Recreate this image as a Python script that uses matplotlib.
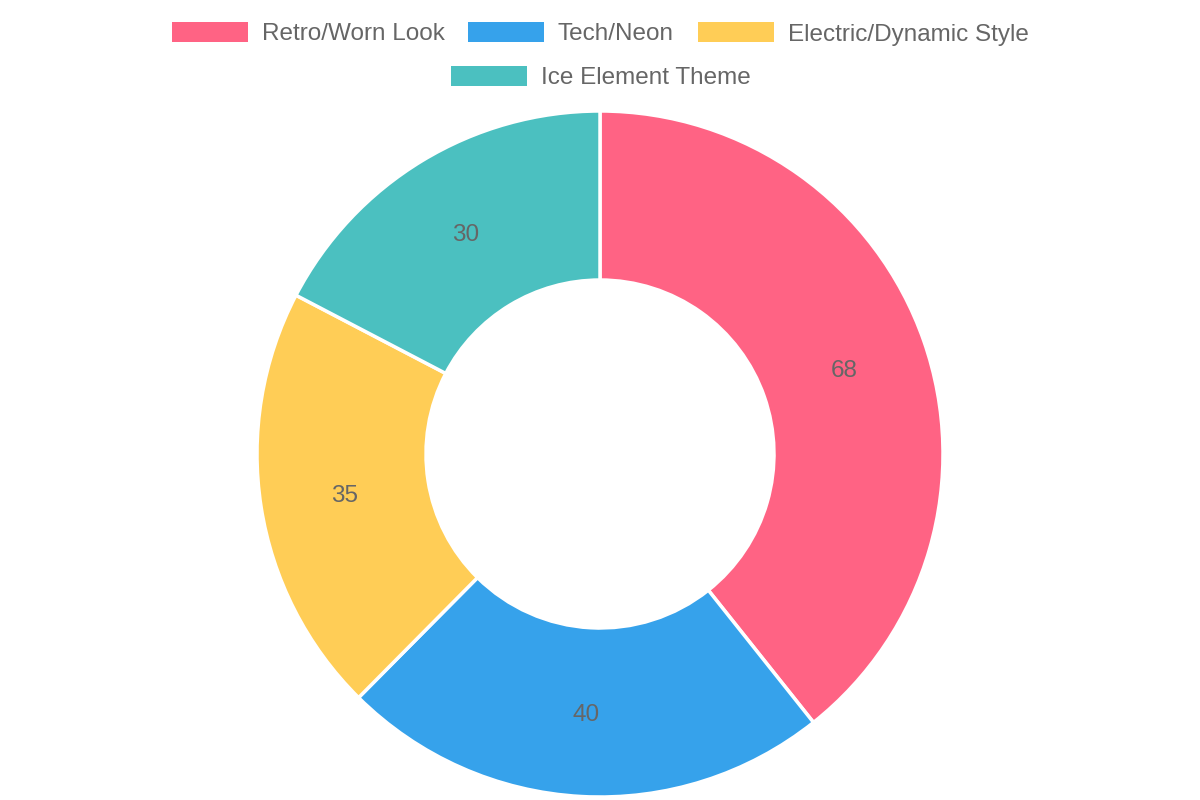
import matplotlib.pyplot as plt
from matplotlib.patches import Rectangle
import numpy as np

plt.rcParams['font.family'] = ['Liberation Sans', 'DejaVu Sans']

labels = ['Retro/Worn Look', 'Tech/Neon', 'Electric/Dynamic Style', 'Ice Element Theme']
values = [68, 40, 35, 30]
colors = ['#FF6384', '#36A2EB', '#FFCD56', '#4BC0C0']

W, H = 1200, 800
fig = plt.figure(figsize=(12, 8), dpi=100)
ax = fig.add_axes([0, 0, 1, 1])

cx, cy = 600, H - 454
r_out, r_in = 343, 174

wedges, _ = ax.pie(values, colors=colors, startangle=90, counterclock=False,
                   center=(cx, cy), radius=r_out, frame=True,
                   wedgeprops=dict(width=r_out - r_in, edgecolor='white', linewidth=2.5))
ax.set_xlim(0, W)
ax.set_ylim(0, H)
ax.set_aspect('equal')
ax.axis('off')

fs = 17.5
cap = 8.5  # half cap height in px, to centre digits/letters on a point

# value labels at middle of ring
r_mid = (r_out + r_in) / 2
for w, v in zip(wedges, values):
    ang = np.deg2rad((w.theta1 + w.theta2) / 2)
    ax.text(cx + r_mid * np.cos(ang), cy + r_mid * np.sin(ang) - cap, str(v),
            ha='center', va='baseline', fontsize=fs, color='#666666')

# legend, two rows like chart.js
rows = [[0, 1, 2], [3]]
box_x = {0: 172, 1: 468, 2: 698, 3: 451}
row_y = [32, 76]
for ri, row in enumerate(rows):
    y = H - row_y[ri]
    for i in row:
        ax.add_patch(Rectangle((box_x[i], y - 10), 76, 20, facecolor=colors[i],
                               edgecolor='none'))
        ax.text(box_x[i] + 90, y - cap, labels[i], ha='left', va='baseline',
                fontsize=fs, color='#666666')

fig.savefig('out.png', dpi=100)
